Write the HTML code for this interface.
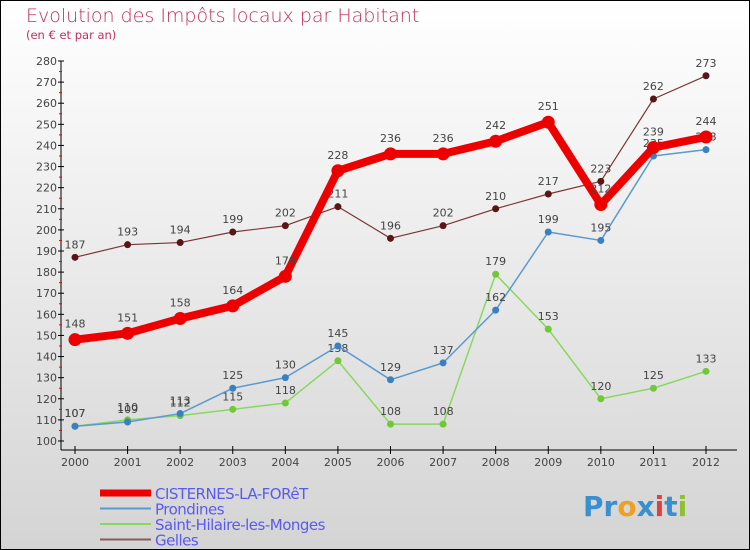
<!DOCTYPE html>
<html><head><meta charset="utf-8"><style>
body{margin:0;width:750px;height:550px;overflow:hidden}
svg{display:block;font-family:"DejaVu Sans","Liberation Sans",sans-serif}
</style></head><body>
<svg width="750" height="550">
<defs><linearGradient id="bg" x1="0" y1="0" x2="0" y2="1"><stop offset="0" stop-color="#ffffff"/><stop offset="1" stop-color="#d4d4d4"/></linearGradient></defs>
<rect x="0.5" y="0.5" width="749" height="549" fill="url(#bg)" stroke="#000"/>
<text x="26" y="22" font-size="19" fill="#c0305a" font-weight="200">Evolution des Impôts locaux par Habitant</text>
<text x="26" y="39" font-size="11.5" fill="#c0305a">(en € et par an)</text>
<g id="axes"></g>
<g id="series"></g>
<g id="legend"></g>
<text x="583" y="516" font-size="28" font-weight="bold" fill="#f0a020"><tspan fill="#3a8fd0">Pr</tspan><tspan fill="#f0a020">o</tspan><tspan fill="#3a8fd0">x</tspan><tspan fill="#e04040">i</tspan><tspan fill="#3a8fd0">t</tspan><tspan fill="#90c030">i</tspan></text>
</svg>
<script>
const years=["2000","2001","2002","2003","2004","2005","2006","2007","2008","2009","2010","2011","2012"];
const yTicks=[100,110,120,130,140,150,160,170,180,190,200,210,220,230,240,250,260,270,280];
const cisternes=[148,151,158,164,178,228,236,236,242,251,212,239,244];
const prondines=[107,109,113,125,130,145,129,137,162,199,195,235,238];
const sthilaire=[107,110,112,115,118,138,108,108,179,153,120,125,133];
const gelles=[187,193,194,199,202,211,196,202,210,217,223,262,273];
const NS="http://www.w3.org/2000/svg";
const x=i=>75+i*(706-75)/12;
const y=v=>441-(v-100)*(380/180);
function mk(t,a,p){const e=document.createElementNS(NS,t);for(const k in a)e.setAttribute(k,a[k]);(p||document.getElementById('axes')).appendChild(e);return e;}
const ax=document.getElementById('axes');
let e=mk('line',{x1:61,y1:y(280),x2:61,y2:450,stroke:'#000'});

e=mk('line',{x1:61,y1:450,x2:737,y2:450,stroke:'#000'});

yTicks.forEach((v,i)=>{
 mk('line',{x1:58,y1:y(v),x2:64,y2:y(v),stroke:'#000'});
 if(i<yTicks.length-1)mk('line',{x1:59,y1:y(v+5),x2:62,y2:y(v+5),stroke:'#e00'});
 const t=mk('text',{x:57,y:y(v)+4,'font-size':11,'text-anchor':'end',fill:'#444'});t.textContent=v;
 
});
years.forEach((yr,i)=>{
 mk('line',{x1:x(i),y1:446,x2:x(i),y2:454,stroke:'#000'});
 const t=mk('text',{x:x(i),y:466,'font-size':11,'text-anchor':'middle',fill:'#444'});t.textContent=yr;
 
});
const sg=document.getElementById('series');
function series(data,color,w,r,dot,name){
 const g=mk('g',{},sg);
 mk('polyline',{points:data.map((v,i)=>x(i)+','+y(v)).join(' '),fill:'none',stroke:color,'stroke-width':w,'stroke-linejoin':'round'},g);
 data.forEach((v,i)=>{
  const c=mk('circle',{cx:x(i),cy:y(v),r:r,fill:dot},g);
  
  const t=mk('text',{x:x(i),y:y(v)-9-(r>4?3:0),'font-size':11,'text-anchor':'middle',fill:'#444'},g);t.textContent=v;
  
 });
}
series(gelles,'#7a3535',1.2,3.5,'#5a1515','gelles');
series(sthilaire,'#88d860',1.5,3.5,'#70c838','saint-hilaire');
series(prondines,'#5a9ad0',1.5,3.5,'#3a80c0','prondines');
series(cisternes,'#ee0000',8,6.5,'#ee0000','cisternes');
const lg=document.getElementById('legend');
const items=[['CISTERNES-LA-FORêT','#ee0000',7],['Prondines','#5a9ad0',2],['Saint-Hilaire-les-Monges','#88d860',2],['Gelles','#8a5a5a',2]];
items.forEach((it,i)=>{
 const yy=493+i*15.5;
 const g=mk('g',{},lg);
 mk('line',{x1:100,y1:yy,x2:151,y2:yy,stroke:it[1],'stroke-width':it[2]},g);
 const t=mk('text',{x:155,y:yy+6,'font-size':15,fill:'#5a5af0','letter-spacing':'-0.5'},g);t.textContent=it[0];
});
</script>
</body></html>
